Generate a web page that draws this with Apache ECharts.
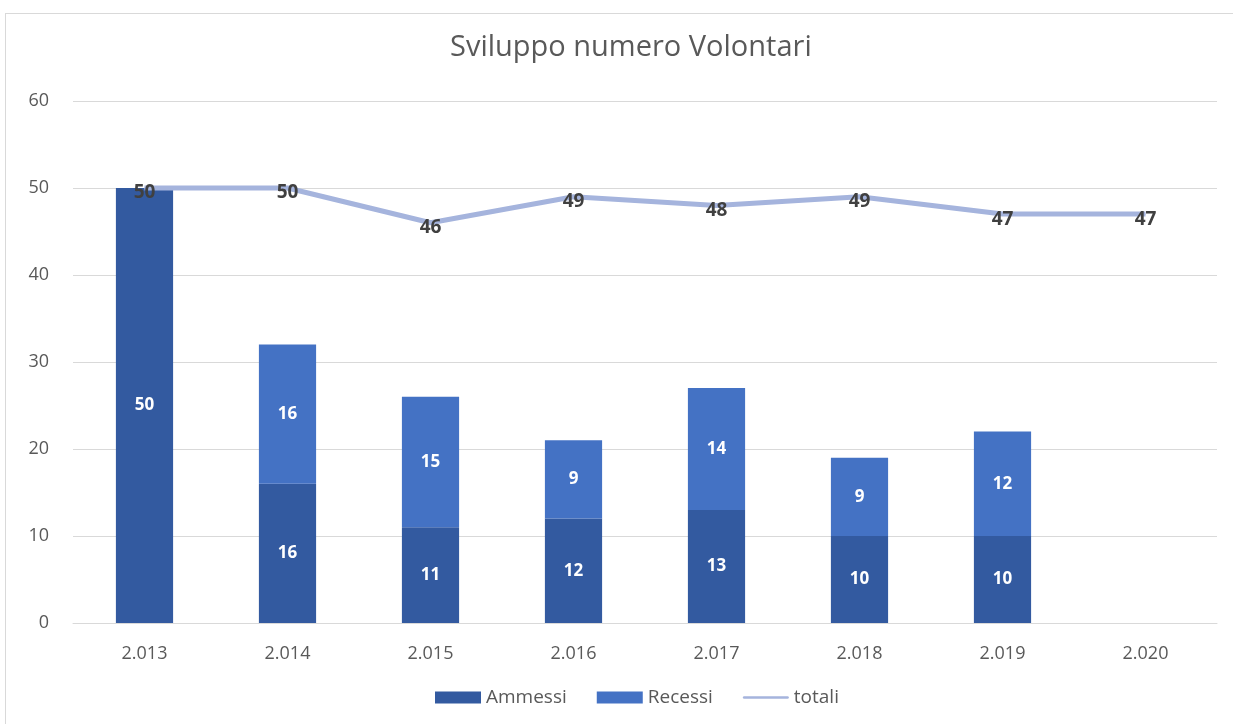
<!DOCTYPE html>
<html>
<head>
<meta charset="utf-8">
<script src="https://cdn.jsdelivr.net/npm/echarts@6/dist/echarts.min.js"></script>
<style>
  html, body { margin: 0; padding: 0; background: #fff; }
  #frame { position: absolute; left: 5px; top: 13px; width: 1240px; height: 720px; border: 1px solid #d9d9d9; box-sizing: border-box; }
  #main { position: absolute; left: 0; top: 0; width: 1233px; height: 724px; }
</style>
</head>
<body>
<div id="frame"></div>
<div id="main"></div>
<script>
// dati
var anni = ['2.013', '2.014', '2.015', '2.016', '2.017', '2.018', '2.019', '2.020'];
var ammessi = [50, 16, 11, 12, 13, 10, 10, 0];
var recessi = [0, 16, 15, 9, 14, 9, 12, 0];
var totali = [50, 50, 46, 49, 48, 49, 47, 47];

var chart = echarts.init(document.getElementById('main'));

// etichette bianche dentro le barre, niente per lo zero
var barLabel = {
  show: true,
  position: 'inside',
  color: '#fff',
  fontWeight: 'bold',
  fontSize: 17,
  fontFamily: 'Open Sans',
  formatter: function (p) { return p.value ? p.value : ''; }
};

var option = {
  animation: false,
  textStyle: { fontFamily: 'Open Sans' },
  title: {
    text: 'Sviluppo numero Volontari',
    left: 445,
    top: 28,
    textStyle: { fontSize: 29, fontWeight: 'normal', color: '#595959', fontFamily: 'Open Sans' }
  },
  legend: {
    bottom: 12,
    left: 430,
    itemWidth: 46,
    itemHeight: 12,
    itemGap: 30,
    textStyle: { fontSize: 19, color: '#595959' },
    data: [
      { name: 'Ammessi', icon: 'rect' },
      { name: 'Recessi', icon: 'rect' },
      { name: 'totali', icon: 'path://M2,5 L98,5 A3,3 0 0 1 98,11 L2,11 A3,3 0 0 1 2,5 Z' }
    ]
  },
  grid: { left: 73, right: 16, top: 101, bottom: 101, containLabel: false },
  xAxis: {
    type: 'category',
    data: anni,
    axisLine: { lineStyle: { color: '#d9d9d9', width: 1 } },
    axisTick: { show: false },
    axisLabel: { color: '#595959', fontSize: 18, margin: 22 }
  },
  yAxis: {
    type: 'value',
    min: 0,
    max: 60,
    interval: 10,
    axisLine: { show: false },
    axisTick: { show: false },
    axisLabel: { color: '#595959', fontSize: 18, margin: 24 },
    splitLine: { lineStyle: { color: '#d9d9d9', width: 1 } }
  },
  series: [
    {
      name: 'Ammessi',
      type: 'bar',
      stack: 'vol',
      barWidth: '40%',
      data: ammessi,
      itemStyle: { color: '#335aa0' },
      label: barLabel
    },
    {
      name: 'Recessi',
      type: 'bar',
      stack: 'vol',
      data: recessi,
      itemStyle: { color: '#4472c4' },
      label: barLabel
    },
    {
      name: 'totali',
      type: 'line',
      data: totali,
      symbol: 'circle',
      symbolSize: 1,
      showSymbol: true,
      z: 5,
      lineStyle: { color: '#a5b4dd', width: 5 },
      itemStyle: { color: '#a5b4dd' },
      label: {
        show: true,
        position: 'bottom',
        distance: 0,
        offset: [0, -5],
        color: '#404040',
        fontWeight: 'bold',
        fontSize: 19,
        fontFamily: 'Open Sans'
      }
    }
  ]
};

chart.setOption(option);
</script>
</body>
</html>
